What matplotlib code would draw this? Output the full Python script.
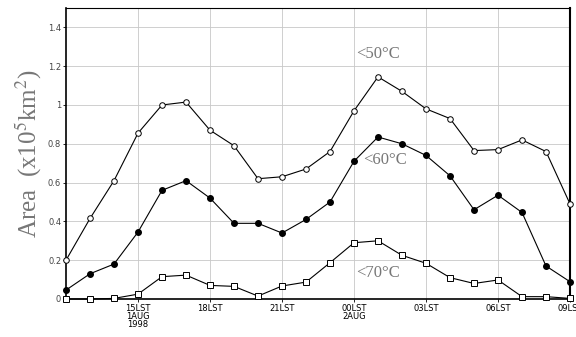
import matplotlib.pyplot as plt
import numpy as np

plt.rcParams['mathtext.fontset'] = 'stix'

# hours since 00LST 1 AUG 1998 (12LST .. 09LST next day)
hours = list(range(12, 34))
area_50 = [0.20, 0.415, 0.61, 0.855, 1.00, 1.015, 0.87, 0.79, 0.62, 0.63, 0.67, 0.76,
           0.97, 1.145, 1.07, 0.98, 0.93, 0.765, 0.77, 0.82, 0.76, 0.49]
area_60 = [0.046, 0.13, 0.18, 0.345, 0.56, 0.61, 0.52, 0.39, 0.39, 0.34, 0.41, 0.50,
           0.71, 0.835, 0.80, 0.74, 0.635, 0.46, 0.535, 0.446, 0.17, 0.089]
area_70 = [0.0, 0.0, 0.003, 0.025, 0.115, 0.123, 0.07, 0.065, 0.015, 0.067, 0.087, 0.187,
           0.29, 0.30, 0.225, 0.184, 0.11, 0.08, 0.098, 0.012, 0.012, 0.003]
tick_hours = [15, 18, 21, 24, 27, 30, 33]
tick_labels = ["15LST\n1AUG\n1998", "18LST", "21LST", "00LST\n2AUG", "03LST", "06LST", "09LST"]
y_ticks = [0, 0.2, 0.4, 0.6, 0.8, 1, 1.2, 1.4]

fig = plt.figure(figsize=(5.76, 3.37), dpi=100)
ax = fig.add_axes([0.1146, 0.1128, 0.8750, 0.8635])

ax.plot(hours, area_50, color="black", lw=0.8, marker="o", ms=4,
        mfc="white", mec="black", mew=0.7, clip_on=False, zorder=3)
ax.plot(hours, area_60, color="black", lw=0.8, marker="o", ms=4,
        mfc="black", mec="black", clip_on=False, zorder=3)
ax.plot(hours, area_70, color="black", lw=0.8, marker="s", ms=4,
        mfc="white", mec="black", mew=0.7, clip_on=False, zorder=3)

ax.set_xlim(12, 33)
ax.set_ylim(0, 1.5)
ax.set_xticks(tick_hours)
ax.set_xticklabels(tick_labels, fontsize=6, linespacing=0.9)
ax.set_yticks(y_ticks)
ax.set_yticklabels([f"{v:g}" for v in y_ticks], fontsize=6, color="#444444")
ax.tick_params(axis="both", length=2, width=0.6, pad=1.5)
ax.grid(True, color="#c8c8c8", lw=0.6)
ax.set_axisbelow(True)

for side in ["left", "bottom"]:
    ax.spines[side].set_linewidth(1.2)
ax.spines["right"].set_linewidth(1.5)
ax.spines["top"].set_linewidth(0.8)

serif = {"family": "Liberation Serif", "color": "#777777"}
ax.set_ylabel("Area  (x10$^5$km$^2$)", fontdict=serif, fontsize=18, labelpad=3)
ax.text(24.1, 1.265, "<50°C", fontdict=serif, fontsize=12, ha="left", va="center")
ax.text(24.4, 0.715, "<60°C", fontdict=serif, fontsize=12, ha="left", va="center")
ax.text(24.1, 0.135, "<70°C", fontdict=serif, fontsize=12, ha="left", va="center")

fig.savefig("out.png", dpi=100)
